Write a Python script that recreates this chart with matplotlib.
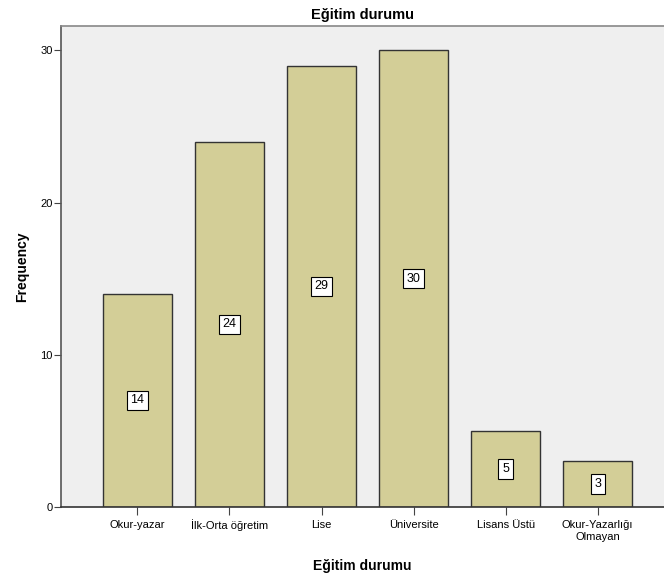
import matplotlib.pyplot as plt

plt.rcParams["font.family"] = ["Liberation Sans", "DejaVu Sans"]

categories = ["Okur-yazar", "İlk-Orta öğretim", "Lise", "Üniversite",
              "Lisans Üstü", "Okur-Yazarlığı\nOlmayan"]
counts = [14, 24, 29, 30, 5, 3]

fig = plt.figure(figsize=(6.64, 5.81), dpi=100)
ax = fig.add_axes([61 / 664, 74 / 581, 603 / 664, 481 / 581])
ax.set_facecolor("#EFEFEF")

x = range(len(categories))
ax.bar(x, counts, width=0.75, color="#D3CE97", edgecolor="#333333", linewidth=1.0, zorder=2)

for i, v in zip(x, counts):
    ax.text(i, v / 2, str(v), ha="center", va="center", fontsize=9, zorder=3,
            bbox=dict(boxstyle="square,pad=0.3", facecolor="white", edgecolor="black", linewidth=0.8))

ax.set_xlim(-0.83, 5.72)
ax.set_ylim(0, 31.6)
ax.set_yticks([0, 10, 20, 30])
ax.set_xticks(list(x))
ax.set_xticklabels(categories, fontsize=8)
for lbl in ax.get_xticklabels():
    lbl.set_linespacing(1.35)
ax.tick_params(axis="y", labelsize=8, length=5, color="#444444", pad=1)
ax.tick_params(axis="x", length=6, color="#444444", pad=3)

ax.spines["right"].set_visible(False)
ax.spines["top"].set_color("#888888")
ax.spines["left"].set_color("#555555")
ax.spines["bottom"].set_color("#333333")
for s in ax.spines.values():
    s.set_linewidth(1.2)

ax.set_title("Eğitim durumu", fontsize=10.5, fontweight="bold", pad=5)
ax.set_xlabel("Eğitim durumu", fontsize=10, fontweight="bold", labelpad=12)
ax.set_ylabel("Frequency", fontsize=10, fontweight="bold", labelpad=8)

plt.savefig("out.png", dpi=100)
plt.close()
